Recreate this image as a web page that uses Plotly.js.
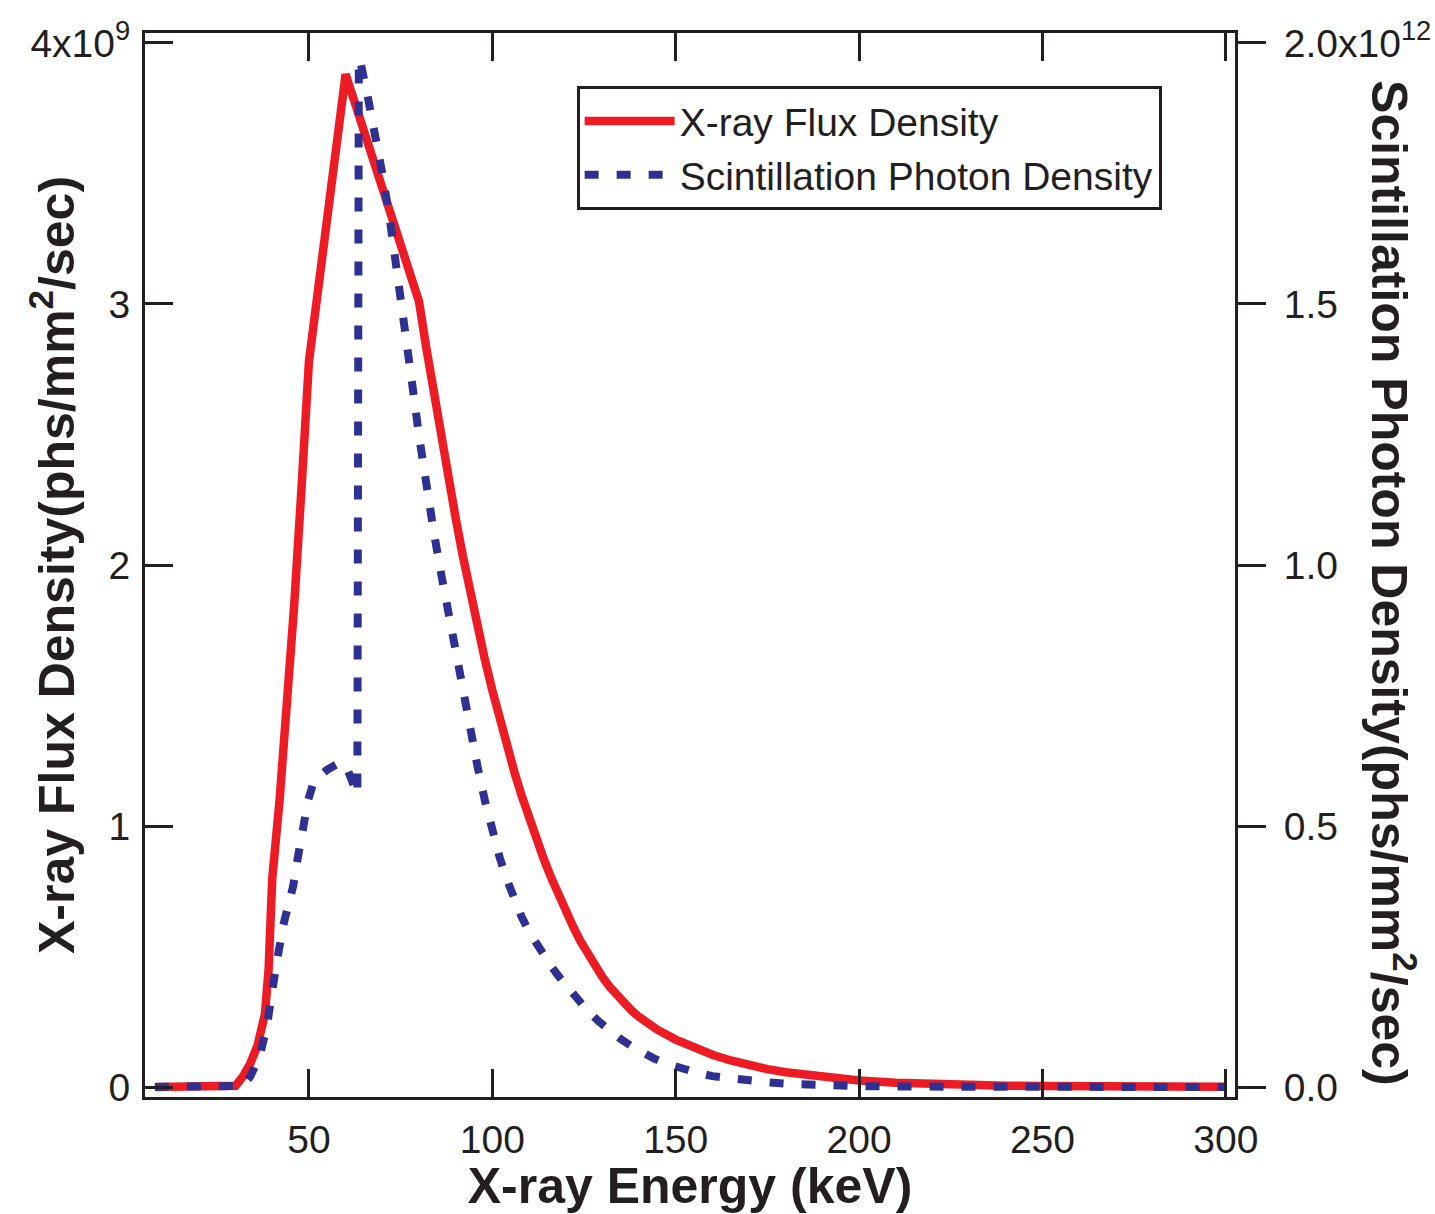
<!DOCTYPE html>
<html>
<head>
<meta charset="utf-8">
<script src="https://cdn.plot.ly/plotly-3.0.1.min.js"></script>
<style>html,body{margin:0;padding:0;background:#fff;}#chart{width:1435px;height:1214px;}</style>
</head>
<body>
<div id="chart"></div>
<script>
// X-ray flux density (units of 1e9 phs/mm^2/sec) vs energy (keV)
const fluxEnergy = [8, 28, 30, 32, 34, 36, 38, 39, 40, 42, 44, 46, 48, 50, 60, 80, 82, 84, 86, 88, 90, 92, 94, 96, 98, 100, 102, 104, 106, 108, 110, 112, 114, 116, 118, 120, 122, 124, 126, 128, 130, 132, 134, 136, 138, 140, 142, 145, 150, 155, 160, 165, 170, 175, 180, 185, 190, 195, 200, 210, 220, 230, 240, 250, 265, 280, 300];
const fluxValues = [0, 0, 0.005, 0.04, 0.09, 0.16, 0.28, 0.45, 0.80, 1.10, 1.45, 1.85, 2.30, 2.78, 3.88, 3.01, 2.832, 2.660, 2.494, 2.334, 2.180, 2.032, 1.892, 1.760, 1.636, 1.520, 1.410, 1.306, 1.208, 1.116, 1.030, 0.950, 0.875, 0.804, 0.737, 0.674, 0.615, 0.560, 0.510, 0.464, 0.422, 0.384, 0.350, 0.320, 0.293, 0.269, 0.248, 0.220, 0.182, 0.150, 0.124, 0.102, 0.084, 0.069, 0.057, 0.047, 0.038, 0.031, 0.025, 0.017, 0.0115, 0.008, 0.0055, 0.004, 0.0025, 0.0015, 0.0008];

// Scintillation photon density (units of 1e12 phs/mm^2/sec) vs energy (keV)
const scintEnergy = [8, 30, 32, 34, 36.6, 38.5, 39.5, 41, 43, 45.7, 47.1, 48.4, 49.8, 51, 52.5, 55, 58, 60, 62, 63.2, 63.6, 64, 66, 68, 70, 72, 74, 76, 78, 80, 82, 84, 86, 88, 90, 92, 94, 96, 98, 100, 102, 104, 106, 108, 110, 112, 114, 116, 118, 120, 123, 126, 129, 132, 135, 138, 141, 144, 148, 152, 156, 160, 165, 170, 175, 180, 185, 190, 200, 210, 225, 250, 300];
const scintValues = [0, 0, 0.0025, 0.02, 0.06, 0.115, 0.165, 0.23, 0.31, 0.385, 0.445, 0.50, 0.55, 0.578, 0.593, 0.608, 0.62, 0.618, 0.585, 0.56, 1.97, 1.965, 1.898, 1.828, 1.75, 1.665, 1.568, 1.463, 1.355, 1.248, 1.15, 1.065, 0.985, 0.908, 0.832, 0.757, 0.683, 0.613, 0.548, 0.49, 0.44, 0.397, 0.359, 0.326, 0.298, 0.274, 0.252, 0.232, 0.213, 0.195, 0.169, 0.146, 0.126, 0.108, 0.092, 0.078, 0.066, 0.055, 0.044, 0.034, 0.027, 0.021, 0.016, 0.012, 0.009, 0.0065, 0.0048, 0.0035, 0.0019, 0.001, 0.0005, 0.0002, 0];

const xTickVals = [50, 100, 150, 200, 250, 300];
const xTickText = ['50', '100', '150', '200', '250', '300'];
const yTickVals = [0, 1, 2, 3, 4];
const yTickText = ['0', '1', '2', '3', '4x10<sup>9</sup>'];
const y2TickVals = [0, 0.5, 1.0, 1.5, 2.0];
const y2TickText = ['0.0', '0.5', '1.0', '1.5', '2.0x10<sup>12</sup>'];

const FONT = 'Arial, "Liberation Sans", Helvetica, sans-serif';
const INK = '#231f20';

const traces = [
  {
    x: fluxEnergy, y: fluxValues, type: 'scatter', mode: 'lines',
    name: 'X-ray Flux Density', yaxis: 'y',
    line: {color: '#ED1C24', width: 8.5}
  },
  {
    x: scintEnergy, y: scintValues, type: 'scatter', mode: 'lines',
    name: 'Scintillation Photon Density', yaxis: 'y2',
    line: {color: '#2E3192', width: 8, dash: '14px,18px'}
  }
];

const layout = {
  width: 1435, height: 1214,
  margin: {l: 145, r: 200, t: 33, b: 117},
  paper_bgcolor: '#ffffff', plot_bgcolor: '#ffffff',
  font: {family: FONT, color: INK, size: 39},
  showlegend: true,
  legend: {
    x: 0.396, y: 0.950, xanchor: 'left', yanchor: 'top',
    bgcolor: '#ffffff', bordercolor: INK, borderwidth: 3,
    font: {family: FONT, size: 39, color: INK},
    itemwidth: 90, traceorder: 'normal'
  },
  xaxis: {
    range: [5.3, 302.5], tickmode: 'array', tickvals: xTickVals, ticktext: xTickText,
    ticks: 'inside', ticklen: 28, tickwidth: 3, tickcolor: INK,
    showline: true, linewidth: 3, linecolor: INK, mirror: 'ticks',
    showgrid: false, zeroline: false,
    tickfont: {family: FONT, size: 39, color: INK}, ticklabelstandoff: 6,
    title: {text: '<b>X-ray Energy (keV)</b>', font: {family: FONT, size: 50, color: INK}, standoff: 22}
  },
  yaxis: {
    range: [-0.038, 4.038], tickmode: 'array', tickvals: yTickVals, ticktext: yTickText,
    ticks: 'inside', ticklen: 28, tickwidth: 3, tickcolor: INK,
    showline: true, linewidth: 3, linecolor: INK, mirror: false,
    showgrid: false, zeroline: false,
    tickfont: {family: FONT, size: 39, color: INK}, ticklabelstandoff: 4
  },
  yaxis2: {
    overlaying: 'y', side: 'right',
    range: [-0.019, 2.019], tickmode: 'array', tickvals: y2TickVals, ticktext: y2TickText,
    ticks: 'outside', ticklen: 28, tickwidth: 3, tickcolor: INK,
    showline: true, linewidth: 3, linecolor: INK,
    showgrid: false, zeroline: false,
    tickfont: {family: FONT, size: 39, color: INK}, ticklabelstandoff: 10
  },
  annotations: [
    {
      xref: 'paper', yref: 'paper', x: -0.0844, y: 0.5, xanchor: 'center', yanchor: 'middle',
      textangle: -90, showarrow: false,
      text: '<b>X-ray Flux Density(phs/mm<sup>2</sup>/sec)</b>',
      font: {family: FONT, size: 50, color: INK}
    },
    {
      xref: 'paper', yref: 'paper', x: 1.145, y: 0.483, xanchor: 'center', yanchor: 'middle',
      textangle: 90, showarrow: false,
      text: '<b>Scintillation Photon Density(phs/mm<sup>2</sup>/sec)</b>',
      font: {family: FONT, size: 50, color: INK}
    }
  ]
};

Plotly.newPlot('chart', traces, layout, {displayModeBar: false, staticPlot: true});
</script>
</body>
</html>
